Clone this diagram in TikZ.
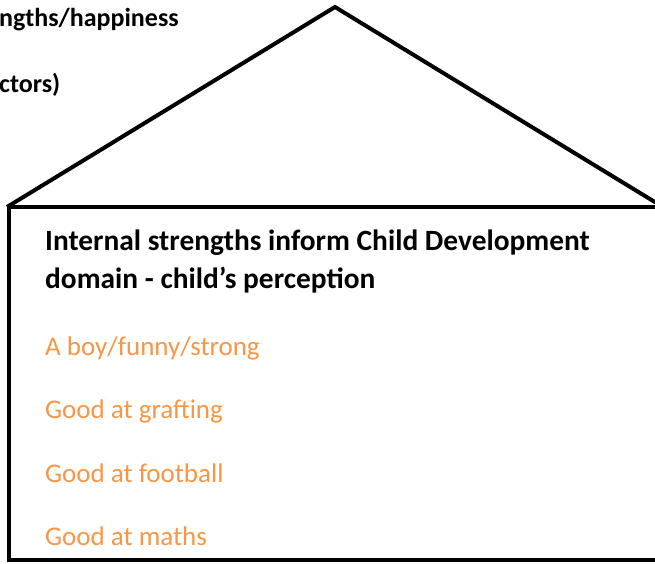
\documentclass[tikz,border=0pt]{standalone}
\usepackage{fontspec}
\setmainfont{Carlito}
\usepackage{xcolor}
\usepackage{tikz}
\usetikzlibrary{positioning}
\definecolor{hsorange}{RGB}{247,150,70}

\begin{document}
\begin{tikzpicture}[
  x=1pt,
  y=1pt,
  wall/.style={
    draw=black,
    line width=4pt,
    line join=miter
  },
  heading/.style={
    font=\fontsize{29.4}{38}\selectfont\bfseries,
    align=left,
    inner sep=0pt,
    anchor=base west
  },
  corner/.style={
    font=\fontsize{26}{30}\selectfont\bfseries,
    inner sep=0pt,
    anchor=base west
  },
  item/.style={
    font=\fontsize{27}{32}\selectfont,
    text=hsorange,
    inner sep=0pt,
    anchor=base west
  }
]
\clip (0,0) rectangle (655,563);

% roof and walls
\coordinate (apex) at (335,556);
\coordinate (eaveL) at (7,356);
\coordinate (eaveR) at (663,356);
\draw[wall] (eaveL) -- (apex) -- (eaveR);
\draw[wall] (9,356) rectangle (663,3);

% text cut off at the left
\node[corner] (top1) at (-1,536) {ngths/happiness};
\node[corner] (top2) at (-1,470) {ctors)};

\node[heading] (title) at (45,275)
{Internal strengths inform Child Development\\ domain - child’s perception};

\node[item] (i1) at (45,208) {A boy/funny/strong};
\node[item, below=63.6 of i1.base west, anchor=base west] (i2) {Good at grafting};
\node[item, below=63.6 of i2.base west, anchor=base west] (i3) {Good at football};
\node[item, below=63.6 of i3.base west, anchor=base west] (i4) {Good at maths};

\end{tikzpicture}
\end{document}
